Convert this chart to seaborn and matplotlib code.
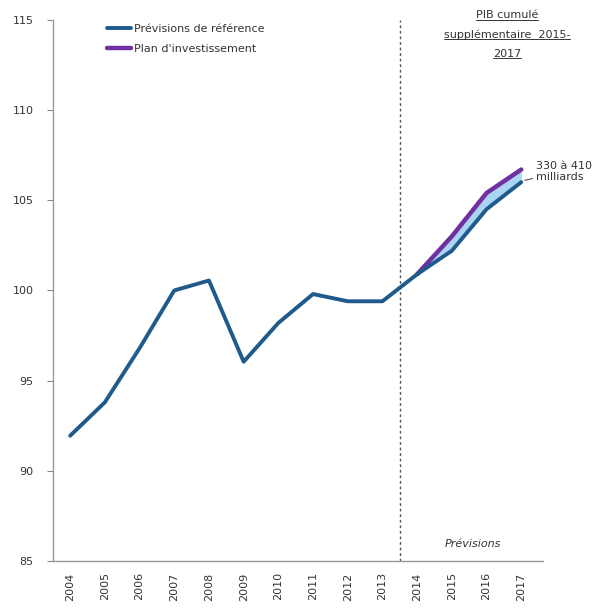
import seaborn as sns
import matplotlib.pyplot as plt
import numpy as np
import pandas as pd

years = list(range(2004, 2018))
reference = [91.95, 93.8, 96.8, 100.0, 100.55, 96.05, 98.2, 99.8, 99.4, 99.4,
             100.9, 102.2, 104.5, 106.0]
plan_years = [2014, 2015, 2016, 2017]
plan = [100.9, 103.0, 105.4, 106.7]

ref_color = "#1f5a8c"
plan_color = "#7030a0"
fill_color = "#a9d4f2"

sns.set_style("white")
plt.rcParams["font.family"] = ["DejaVu Sans"]

fig = plt.figure(figsize=(6.14, 6.16), dpi=100)
ax = fig.add_axes([0.086, 0.089, 0.798, 0.879])

df_ref = pd.DataFrame({"year": years, "value": reference})
df_plan = pd.DataFrame({"year": plan_years, "value": plan})
ref_tail = df_ref[df_ref["year"] >= 2014]["value"].values

ax.fill_between(plan_years, ref_tail, plan, color=fill_color, lw=0, zorder=1)
sns.lineplot(data=df_plan, x="year", y="value", ax=ax, color=plan_color,
             lw=3.2, label="Plan d'investissement", zorder=2)
sns.lineplot(data=df_ref, x="year", y="value", ax=ax, color=ref_color,
             lw=2.8, label="Prévisions de référence", zorder=3)

ax.axvline(2013.5, color="#555555", lw=1, ls=(0, (2, 2)), zorder=0)

ax.set_xlim(2003.5, 2017.62)
ax.set_ylim(85, 115)
ax.set_yticks([85, 90, 95, 100, 105, 110, 115])
ax.set_xticks(years)
ax.set_xticklabels([str(y) for y in years], rotation=90, fontsize=8, color="#333333")
ax.set_xticks(np.arange(2003.5, 2018, 1), minor=True)
ax.tick_params(axis="x", which="major", length=0, pad=8)
ax.tick_params(axis="x", which="minor", length=4, color="#888888", direction="out")
ax.tick_params(axis="y", length=4, color="#888888", direction="out", labelsize=8,
               labelcolor="#333333", pad=10, left=True)
ax.set_xlabel("")
ax.set_ylabel("")
for side in ["top", "right"]:
    ax.spines[side].set_visible(False)
for side in ["left", "bottom"]:
    ax.spines[side].set_color("#999999")
    ax.spines[side].set_linewidth(1)

handles, labels = ax.get_legend_handles_labels()
order = [labels.index("Prévisions de référence"), labels.index("Plan d'investissement")]
ax.legend([handles[i] for i in order], [labels[i] for i in order],
          loc="upper left", bbox_to_anchor=(0.09, 1.01), frameon=False,
          fontsize=8, handlelength=2.2, handletextpad=0.2, labelspacing=0.9,
          labelcolor="#333333")

ax.text(2015.6, 85.7, "Prévisions", style="italic", fontsize=8, ha="center",
        va="bottom", color="#333333")

ax.annotate("330 à 410\nmilliards", xy=(2017.1, 106.1), xytext=(2017.42, 106.6),
            fontsize=8, color="#333333", ha="left", va="center",
            annotation_clip=False,
            arrowprops=dict(arrowstyle="-", color="#555555", lw=0.8,
                            shrinkA=0, shrinkB=0))

title_lines = ["PIB cumulé", "supplémentaire  2015-", "2017"]
title_y = [0.975, 0.944, 0.913]
fig.canvas.draw()
renderer = fig.canvas.get_renderer()
for line, ty in zip(title_lines, title_y):
    t = fig.text(0.826, ty, line, ha="center", va="center", fontsize=8, color="#333333")
    bb = t.get_window_extent(renderer=renderer).transformed(fig.transFigure.inverted())
    fig.add_artist(plt.Line2D([bb.x0, bb.x1], [bb.y0 + 0.001, bb.y0 + 0.001],
                              color="#333333", lw=0.7, transform=fig.transFigure))

fig.savefig("out.png", dpi=100)
